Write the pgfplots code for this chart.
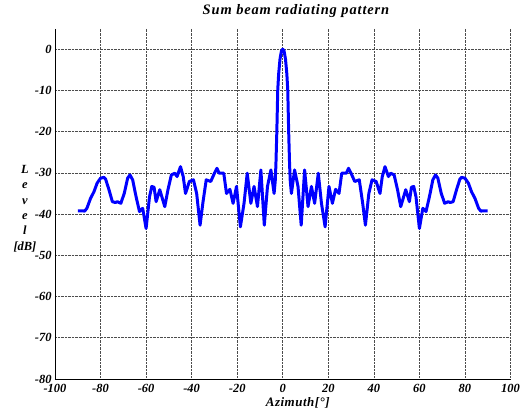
\documentclass[border=0pt]{standalone}
\usepackage{fontspec}
\setmainfont{Liberation Serif}
\usepackage{pgfplots}
\pgfplotsset{compat=1.18}

\pgfplotstableread{
az level
-90 -39.2
-88 -39.2
-87 -39.3
-86 -38.6
-84.4 -36.2
-82.9 -34.6
-81.5 -32.5
-80 -31.3
-78.5 -31.1
-77.8 -31.5
-76.3 -34.1
-74.8 -37
-73.5 -37.2
-72.6 -37
-71.1 -37.4
-69.6 -35
-68.1 -31.3
-67.1 -30.5
-65.9 -31.7
-64.4 -35.8
-62.9 -39.4
-61.5 -38.6
-60 -43.5
-58.5 -35.8
-57.5 -33.3
-56.5 -33.5
-55.6 -37
-54 -34.1
-51.8 -38.2
-50.4 -34.1
-48.9 -30.5
-47.4 -30.1
-46.4 -30.9
-44.9 -28.5
-43.7 -30.9
-42.7 -35
-41 -32.1
-39.2 -31.7
-37.8 -35
-36.3 -42.7
-35.1 -37.4
-33.6 -31.7
-31.6 -32.1
-30 -30.1
-28.9 -28.9
-27.9 -30.1
-25.9 -30.1
-24.7 -35
-23.2 -34
-21.8 -37.4
-20.3 -33.3
-18.6 -43.1
-17 -37.4
-15.6 -30.1
-14 -37.4
-12.6 -33.3
-11.1 -38.2
-9.6 -29.3
-8.1 -42.7
-6.7 -33.3
-5.2 -29.3
-3.8 -35
-3.3 -32
-3 -28
-2.6 -20
-2.2 -10
-1.8 -6
-1.2 -2.4
-0.6 -0.5
0 0
0.6 -0.5
1.2 -2.4
1.8 -6
2.2 -10
2.6 -20
3 -28
3.3 -32
3.8 -35
5.2 -29.3
6.7 -33.3
8.1 -42.7
9.6 -29.3
11.1 -38.2
12.6 -33.3
14 -37.4
15.6 -30.1
17 -37.4
18.6 -43.1
20.3 -33.3
21.8 -37.4
23.2 -34
24.7 -35
25.9 -30.1
27.9 -30.1
28.9 -28.9
30 -30.1
31.6 -32.1
33.6 -31.7
35.1 -37.4
36.3 -42.7
37.8 -35
39.2 -31.7
41 -32.1
42.7 -35
43.7 -30.9
44.9 -28.5
46.4 -30.9
47.4 -30.1
48.9 -30.5
50.4 -34.1
51.8 -38.2
54 -34.1
55.6 -37
56.5 -33.5
57.5 -33.3
58.5 -35.8
60 -43.5
61.5 -38.6
62.9 -39.4
64.4 -35.8
65.9 -31.7
67.1 -30.5
68.1 -31.3
69.6 -35
71.1 -37.4
72.6 -37
73.5 -37.2
74.8 -37
76.3 -34.1
77.8 -31.5
78.5 -31.1
80 -31.3
81.5 -32.5
82.9 -34.6
84.4 -36.2
86 -38.6
87 -39.3
88 -39.2
90 -39.2
}\sumbeam

\begin{document}
\begin{tikzpicture}
\begin{axis}[
    name=main,
    width=455.5bp, height=350.5bp,
    scale only axis,
    xmin=-100, xmax=100,
    ymin=-80, ymax=5,
    xtick={-100,-80,...,100},
    ytick={-80,-70,...,0},
    axis lines=left,
    axis line style={-, line width=0.9pt},
    major tick length=0pt,
    grid=major,
    grid style={densely dotted, black!70, line width=0.6pt},
    /pgf/number format/assume math mode=true,
    tick label style={font=\fontsize{12.5}{14}\selectfont\bfseries\itshape},
    xticklabel style={yshift=-1.5bp},
    title={Sum beam radiating pattern},
    title style={at={(axis description cs:0.529,1.034)}, anchor=center,
        font=\fontsize{14.5}{16}\selectfont\bfseries\itshape\addfontfeatures{LetterSpace=6}},
    xlabel={Azimuth[°]},
    xlabel style={at={(axis description cs:0.533,-0.068)}, anchor=center,
        font=\fontsize{13}{15}\selectfont\bfseries\itshape\addfontfeatures{LetterSpace=4}},
    ylabel={L\\e\\v\\e\\l\\{}[dB]},
    ylabel style={at={(axis description cs:-0.066,0.486)}, anchor=center,
        rotate=-90, align=center,
        font=\fontsize{12.5}{15.4}\selectfont\bfseries\itshape},
]
\addplot[color={rgb,255:red,0;green,0;blue,255}, line width=3pt, line join=round] table[x=az, y=level] {\sumbeam};
\end{axis}
\path[use as bounding box] ([xshift=-55bp, yshift=-38bp]main.south west)
    rectangle ([xshift=17.5bp, yshift=28.5bp]main.north east);
\end{tikzpicture}
\end{document}
